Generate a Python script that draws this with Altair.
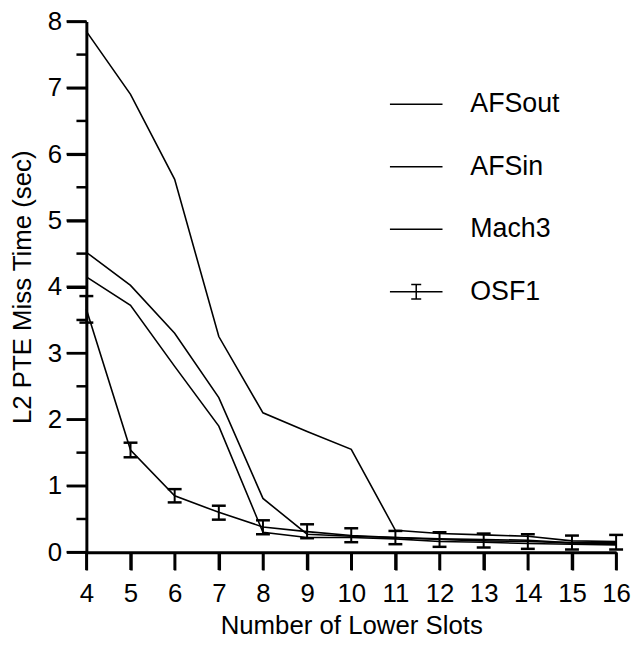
import altair as alt
import pandas as pd

slots = [4, 5, 6, 7, 8, 9, 10, 11, 12, 13, 14, 15, 16]
afsout = [7.85, 6.9, 5.62, 3.25, 2.1, 1.82, 1.55, 0.33, 0.28, 0.26, 0.24, 0.17, 0.16]
afsin = [4.52, 4.02, 3.3, 2.33, 0.81, 0.27, 0.24, 0.22, 0.2, 0.19, 0.18, 0.14, 0.13]
mach3 = [4.15, 3.72, 2.8, 1.9, 0.3, 0.22, 0.22, 0.2, 0.16, 0.15, 0.13, 0.12, 0.11]
osf1 = [3.66, 1.54, 0.85, 0.6, 0.38, 0.31, 0.25, 0.22, 0.19, 0.17, 0.16, 0.14, 0.14]
osf1_low = [3.46, 1.43, 0.75, 0.49, 0.27, 0.21, 0.15, 0.12, 0.08, 0.07, 0.05, 0.04, 0.04]
osf1_high = [3.86, 1.65, 0.95, 0.7, 0.48, 0.42, 0.36, 0.32, 0.3, 0.28, 0.27, 0.25, 0.26]
series_names = ["AFSout", "AFSin", "Mach3", "OSF1"]
y_ticks = [0.0, 1.0, 2.0, 3.0, 4.0, 5.0, 6.0, 7.0, 8.0]
y_minor = [0.5, 1.5, 2.5, 3.5, 4.5, 5.5, 6.5, 7.5]

rows = []
for name, vals in zip(series_names, [afsout, afsin, mach3, osf1]):
    for s, v in zip(slots, vals):
        rows.append({"slots": s, "time": v, "series": name})
df = pd.DataFrame(rows)
err = pd.DataFrame({"slots": slots, "low": osf1_low, "high": osf1_high})

FONT = "Liberation Sans"
W, H = 534, 535
X_DOM = [4, 16]
Y_DOM = [0, 8]

x_axis = alt.Axis(values=slots, title="Number of Lower Slots", tickSize=18, tickWidth=2.5,
                  domainWidth=3, labelPadding=11, titlePadding=6, grid=False, format="d",
                  labelFlush=False)
y_axis = alt.Axis(values=y_ticks, title="L2 PTE Miss Time (sec)", tickSize=20,
                  tickWidth=2.5, domainWidth=3, labelPadding=5, titlePadding=12, grid=False,
                  format="d", labelFlush=False)

lines = alt.Chart(df).mark_line(color="black", strokeWidth=1.6).encode(
    x=alt.X("slots:Q", scale=alt.Scale(domain=X_DOM, nice=False, zero=False), axis=x_axis),
    y=alt.Y("time:Q", scale=alt.Scale(domain=Y_DOM, nice=False), axis=y_axis),
    detail="series:N",
)

rule = alt.Chart(err).mark_rule(color="black", strokeWidth=2).encode(
    x="slots:Q", y="low:Q", y2="high:Q")
cap_lo = alt.Chart(err).mark_tick(color="black", orient="horizontal", size=14, thickness=2.5,
                                  opacity=1).encode(x="slots:Q", y="low:Q")
cap_hi = alt.Chart(err).mark_tick(color="black", orient="horizontal", size=14, thickness=2.5,
                                  opacity=1).encode(x="slots:Q", y="high:Q")

# axis tick marks drawn as small bars hanging off the axis lines
x_tick_marks = alt.Chart(pd.DataFrame({"slots": slots})).mark_tick(
    color="black", orient="vertical", size=18, thickness=2.5, opacity=1).encode(
    x="slots:Q", y=alt.value(H + 9))
y_major_marks = alt.Chart(pd.DataFrame({"time": y_ticks})).mark_tick(
    color="black", orient="horizontal", size=20, thickness=2.5, opacity=1).encode(
    y="time:Q", x=alt.value(-10))
y_minor_marks = alt.Chart(pd.DataFrame({"time": y_minor})).mark_tick(
    color="black", orient="horizontal", size=10, thickness=2.5, opacity=1).encode(
    y="time:Q", x=alt.value(-5))

line_path = "M-1,0H1"
ibeam_path = "M-1,0H1M0,-0.28V0.28M-0.19,-0.28H0.19M-0.19,0.28H0.19"
legend_pts = alt.Chart(df).transform_filter(alt.datum.slots < 0).mark_point(
    filled=False, color="black", strokeWidth=1.5, size=2809, opacity=1).encode(
    x="slots:Q", y="time:Q",
    shape=alt.Shape("series:N", scale=alt.Scale(domain=series_names,
                    range=[line_path, line_path, line_path, ibeam_path]),
                    legend=alt.Legend(title=None, orient="none", legendX=305, legendY=56,
                                      labelFontSize=27, labelFont=FONT, labelColor="black",
                                      labelOffset=27, rowPadding=22, symbolSize=2809,
                                      symbolStrokeWidth=1.5, symbolStrokeColor="black")),
)

chart = alt.layer(lines, rule, cap_lo, cap_hi, x_tick_marks, y_major_marks, y_minor_marks,
                  legend_pts).properties(
    width=W, height=H,
    autosize=alt.AutoSizeParams(type="none"),
    padding={"left": 79, "top": 11, "right": 15, "bottom": 82},
).configure_view(stroke=None).configure_axis(
    labelFont=FONT, titleFont=FONT, labelFontSize=26, titleFontSize=26,
    labelColor="black", titleColor="black", domainColor="black", tickColor="black",
    titleFontWeight="normal",
)

chart.save("out.html", embed_options={"renderer": "svg", "actions": False})
